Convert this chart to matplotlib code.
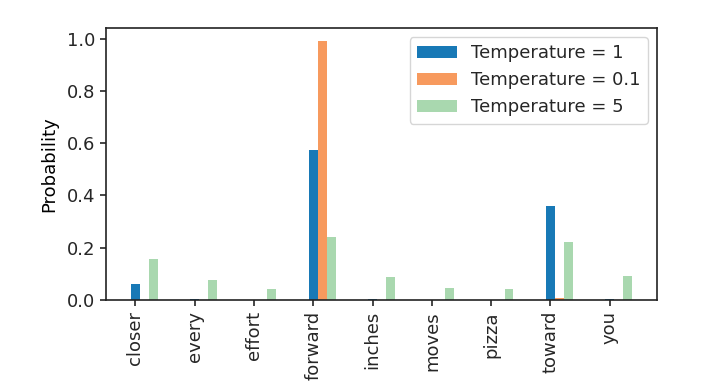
import matplotlib
matplotlib.use("Agg")
import matplotlib.pyplot as plt
import numpy as np

vocab = ["closer", "every", "effort", "forward", "inches", "moves", "pizza", "toward", "you"]
temperatures = [1, 0.1, 5]
probs_t1 = [0.061, 0.002, 0.0001, 0.572, 0.003, 0.0001, 0.0001, 0.358, 0.004]
probs_t01 = [0.0, 0.0, 0.0, 0.991, 0.0, 0.0, 0.0, 0.009, 0.0]
probs_t5 = [0.155, 0.075, 0.043, 0.242, 0.087, 0.045, 0.043, 0.220, 0.090]
series = [probs_t1, probs_t01, probs_t5]
colors = ["#1879b6", "#f79a5e", "#a9d8af"]

plt.rcParams["font.size"] = 13
plt.rcParams["text.color"] = "#262626"
plt.rcParams["xtick.color"] = "#262626"
plt.rcParams["ytick.color"] = "#262626"
plt.rcParams["axes.linewidth"] = 1.2
plt.rcParams["xtick.major.width"] = 1.2
plt.rcParams["ytick.major.width"] = 1.2
plt.rcParams["xtick.major.size"] = 4.5
plt.rcParams["ytick.major.size"] = 4.5

fig = plt.figure(figsize=(7.23, 3.92), dpi=100)
ax = fig.add_axes([106/723, 1 - 300/392, (657-106)/723, (300-28)/392])
x = np.arange(len(vocab))
bar_width = 0.15
for i, (T, vals) in enumerate(zip(temperatures, series)):
    ax.bar(x + i * bar_width, vals, bar_width, label=f"Temperature = {T}", color=colors[i])

ax.set_ylabel("Probability", labelpad=6)
ax.set_xticks(x)
ax.set_xticklabels(vocab, rotation=90)
ax.legend(handlelength=2.2)
for s in ax.spines.values():
    s.set_color("#222222")
fig.savefig("out.png", dpi=100)
